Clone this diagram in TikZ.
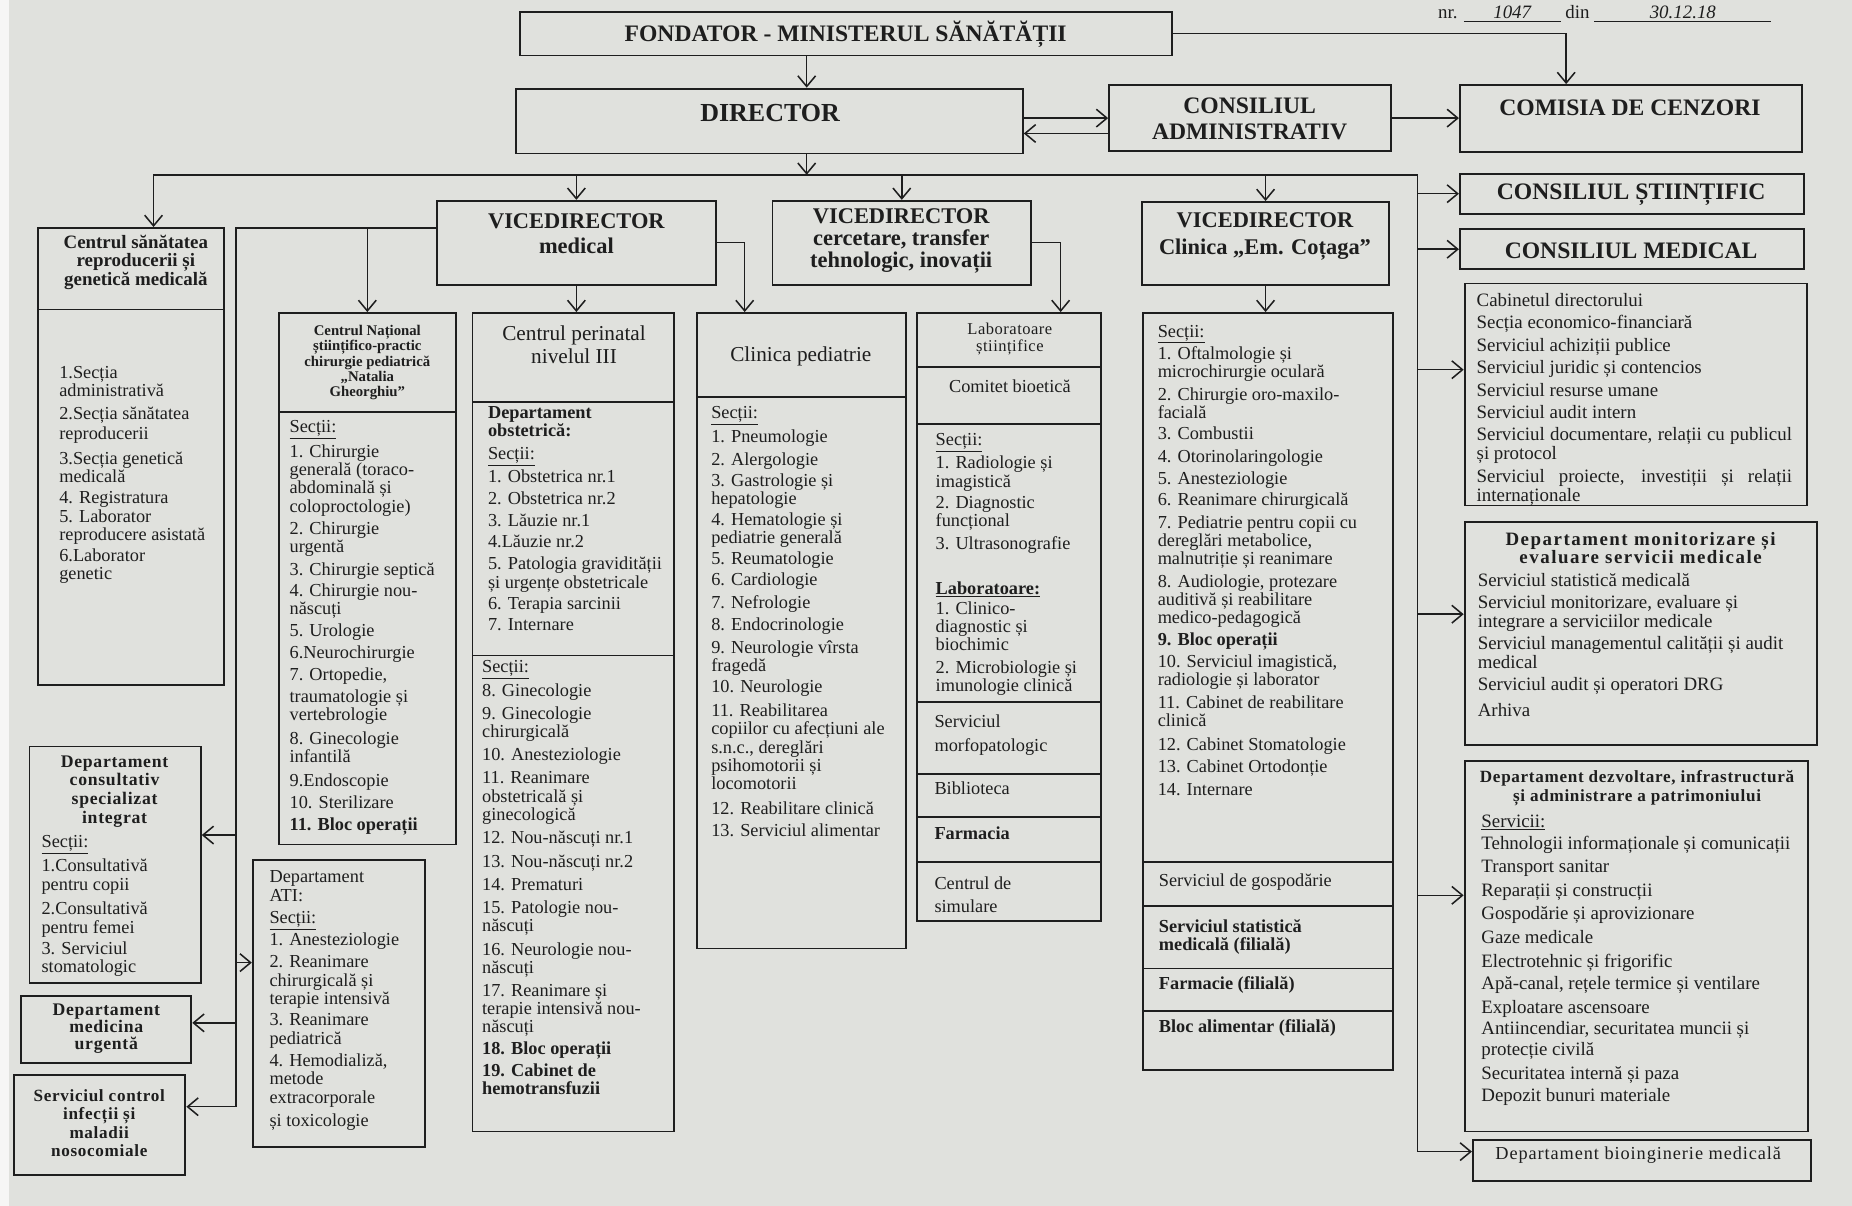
\documentclass[tikz,border=0pt]{standalone}
\usepackage{fontspec}
\setmainfont{Liberation Serif}
\usepackage{tikz}
\usetikzlibrary{arrows.meta,fit}

\definecolor{paper}{RGB}{224,225,221}
\definecolor{ink}{RGB}{30,30,30}

\begin{document}
\begin{tikzpicture}[x=1pt, y=-1pt, >={Straight Barb[length=9pt, width=15pt]},
    box/.style={draw=ink, line width=1.6pt, inner sep=0pt},
    lst/.style={anchor=north west, align=left, inner sep=0pt, text=ink, font=\fontsize{15.5}{15.5}\selectfont},
    rlst/.style={lst, font=\fontsize{16}{16}\selectfont},
    ttl/.style={align=center, inner sep=0pt, text=ink, font=\bfseries\fontsize{20}{22}\selectfont},
    sub/.style={align=center, inner sep=0pt, text=ink, font=\bfseries\fontsize{15}{15.5}\selectfont\addfontfeature{LetterSpace=3}},
    n/.style={line width=1.3pt, draw=ink}]
    \useasboundingbox (0,0) rectangle (1568,1021);
    \fill[paper] (0,0) rectangle (1568,1021);
    \fill[white!70!paper] (0,0) rectangle (8,1021);

    % boxes
    \node[box, fit={(440,10) (992,47)}] (fond) {};
    \node[box, fit={(437,75) (866,130)}] (dir) {};
    \node[box, fit={(939,72) (1178,128)}] (cadm) {};
    \node[box, fit={(1236,72) (1526,129)}] (cenz) {};
    \node[box, fit={(1236,147) (1527,181)}] (cst) {};
    \node[box, fit={(1236,194) (1527,228)}] (cmed) {};
    \node[box, fit={(1240,240) (1530,428)}] (cab) {};
    \node[box, fit={(1240,442) (1538,631)}] (mon) {};
    \node[box, fit={(1240,644) (1531,958)}] (dezv) {};
    \node[box, fit={(1247,965) (1533,1000)}] (bio) {};

    \node[box, fit={(370,170) (606,241)}] (vmed) {};
    \node[box, fit={(654,170) (873,241)}] (vcer) {};
    \node[box, fit={(967,171) (1176,241)}] (vcli) {};

    \node[box, fit={(32,193) (190,262)}] (csrh) {};
    \node[box, fit={(32,262) (190,580)}] (csrl) {};
    \node[box, fit={(25,632) (170,832)}] (cons) {};
    \node[box, fit={(18,843) (162,900)}] (urg) {};
    \node[box, fit={(12,910) (157,995)}] (ctrl) {};
    \node[box, fit={(214,728) (360,971)}] (ati) {};

    \node[box, fit={(236,265) (386,349)}] (cnsph) {};
    \node[box, fit={(236,349) (386,715)}] (cnspl) {};
    \node[box, fit={(400,265) (571,340)}] (cp3h) {};
    \node[box, fit={(400,340) (571,555)}] (cp3a) {};
    \node[box, fit={(400,555) (571,958)}] (cp3b) {};
    \node[box, fit={(590,265) (767,336)}] (clph) {};
    \node[box, fit={(590,336) (767,803)}] (clpl) {};
    \node[box, fit={(776,265) (932,311)}] (labh) {};
    \node[box, fit={(776,311) (932,359)}] (labc) {};
    \node[box, fit={(776,359) (932,594)}] (labs) {};
    \node[box, fit={(776,594) (932,655)}] (labm) {};
    \node[box, fit={(776,655) (932,692)}] (labb) {};
    \node[box, fit={(776,692) (932,730)}] (labf) {};
    \node[box, fit={(776,730) (932,780)}] (labsim) {};
    \node[box, fit={(968,265) (1179,730)}] (clis) {};
    \node[box, fit={(968,730) (1179,767)}] (clig) {};
    \node[box, fit={(968,767) (1179,820)}] (clist) {};
    \node[box, fit={(968,820) (1179,856)}] (clif) {};
    \node[box, fit={(968,856) (1179,906)}] (clib) {};

    % texts
    \node[anchor=base west, text=ink, font=\fontsize{16}{16}\selectfont] (nr) at (1214,16) {nr. \underline{\makebox[82pt]{\itshape 1047}} din \underline{\makebox[150pt]{\itshape 30.12.18}}};
    \node[ttl] (fond-t) at (716,29) {FONDATOR - MINISTERUL SĂNĂTĂȚII};
    \node[ttl, font=\bfseries\fontsize{22}{24}\selectfont] (dir-t) at (652,96) {DIRECTOR};
    \node[ttl] (cadm-t) at (1058,101) {CONSILIUL\\ADMINISTRATIV};
    \node[ttl] (cenz-t) at (1380,91) {COMISIA DE CENZORI};
    \node[ttl] (cst-t) at (1381,165) {CONSILIUL ȘTIINȚIFIC};
    \node[ttl] (cmed-t) at (1381,212) {CONSILIUL MEDICAL};
    \node[ttl, font=\bfseries\fontsize{19}{21}\selectfont] (vmed-t) at (488,198) {VICEDIRECTOR\\medical};
    \node[ttl, font=\bfseries\fontsize{19}{18.5}\selectfont] (vcer-t) at (763,204) {VICEDIRECTOR\\cercetare, transfer\\tehnologic, inovații};
    \node[ttl, font=\bfseries\fontsize{19}{23}\selectfont] (vcli-t) at (1071,200) {VICEDIRECTOR\\Clinica „Em. Coțaga”};

    \node[sub, font=\bfseries\fontsize{16}{15.5}\selectfont] (csrh-t) at (115,222) {Centrul sănătatea\\reproducerii și\\genetică medicală};
    \node[lst] (csrl-t) at (50,310) {1.Secția\\administrativă\\[3.5pt]2.Secția sănătatea\\[1.5pt]reproducerii\\[5.5pt]3.Secția genetică\\medicală\\[2.5pt]4. Registratura\\5. Laborator\\reproducere asistată\\[2.5pt]6.Laborator\\genetic};
    \node[sub, font=\bfseries\fontsize{15}{15.7}\selectfont\addfontfeature{LetterSpace=4}] (cons-t) at (97,670) {Departament\\consultativ\\specializat\\integrat};
    \node[lst] (cons-l) at (35,707) {\underline{Secții:}\\[3.5pt]1.Consultativă\\pentru copii\\[5.5pt]2.Consultativă\\pentru femei\\[2.5pt]3. Serviciul\\stomatologic};
    \node[sub, font=\bfseries\fontsize{15}{14.5}\selectfont\addfontfeature{LetterSpace=4}] (urg-t) at (90,871) {Departament\\medicina\\urgentă};
    \node[sub, font=\bfseries\fontsize{14.5}{15.7}\selectfont\addfontfeature{LetterSpace=4}] (ctrl-t) at (84,951) {Serviciul control\\infecții și\\maladii\\nosocomiale};
    \node[lst] (ati-t) at (228,737) {Departament\\ATI:\\[3.5pt]\underline{Secții:}\\[1.5pt]1. Anesteziologie\\[3.5pt]2. Reanimare\\chirurgicală și\\terapie intensivă\\[2.5pt]3. Reanimare\\pediatrică\\[3.5pt]4. Hemodializă,\\metode\\extracorporale\\[4.5pt]și toxicologie};

    \node[sub, font=\bfseries\fontsize{12.5}{13}\selectfont] (cnsph-t) at (311,307) {Centrul Național\\științifico-practic\\chirurgie pediatrică\\„Natalia\\Gheorghiu”};
    \node[lst] (cnspl-t) at (245,356) {\underline{Secții:}\\[3.5pt]1. Chirurgie\\generală (toraco-\\abdominală și\\coloproctologie)\\[3.5pt]2. Chirurgie\\urgentă\\[3.5pt]3. Chirurgie septică\\[2.5pt]4. Chirurgie nou-\\născuți\\[2.5pt]5. Urologie\\[3.5pt]6.Neurochirurgie\\[3.5pt]7. Ortopedie,\\[2.5pt]traumatologie și\\vertebrologie\\[4.5pt]8. Ginecologie\\infantilă\\[4.5pt]9.Endoscopie\\[3.5pt]10. Sterilizare\\[3.5pt]{\bfseries 11. Bloc operații}};

    \node[ttl, font=\fontsize{18}{19}\selectfont] (cp3h-t) at (486,292) {Centrul perinatal\\nivelul III};
    \node[lst] (cp3a-t) at (413,344) {{\bfseries Departament}\\{\bfseries obstetrică:}\\[3.5pt]\underline{Secții:}\\[2.5pt]1. Obstetrica nr.1\\[3.5pt]2. Obstetrica nr.2\\[2.5pt]3. Lăuzie nr.1\\[2.5pt]4.Lăuzie nr.2\\[3.5pt]5. Patologia gravidității\\și urgențe obstetricale\\[2.5pt]6. Terapia sarcinii\\[2.5pt]7. Internare};
    \node[lst] (cp3b-t) at (408,559) {\underline{Secții:}\\[3.5pt]8. Ginecologie\\[3.5pt]9. Ginecologie\\chirurgicală\\[3.5pt]10. Anesteziologie\\[4.5pt]11. Reanimare\\obstetricală și\\ginecologică\\[4.5pt]12. Nou-născuți nr.1\\[4.5pt]13. Nou-născuți nr.2\\[3.5pt]14. Prematuri\\[4.5pt]15. Patologie nou-\\născuți\\[4.5pt]16. Neurologie nou-\\născuți\\[3.5pt]17. Reanimare și\\terapie intensivă nou-\\născuți\\[2.5pt]{\bfseries 18. Bloc operații}\\[3.5pt]{\bfseries 19. Cabinet de}\\{\bfseries hemotransfuzii}};

    \node[ttl, font=\fontsize{18}{19}\selectfont] (clph-t) at (678,302) {Clinica pediatrie};
    \node[lst] (clpl-t) at (602,344) {\underline{Secții:}\\[3.5pt]1. Pneumologie\\[3.5pt]2. Alergologie\\[2.5pt]3. Gastrologie și\\hepatologie\\[1.5pt]4. Hematologie și\\pediatrie generală\\[2.5pt]5. Reumatologie\\[2.5pt]6. Cardiologie\\[3.5pt]7. Nefrologie\\[3.5pt]8. Endocrinologie\\[3.5pt]9. Neurologie vîrsta\\fragedă\\[2.5pt]10. Neurologie\\[4.5pt]11. Reabilitarea\\copiilor cu afecțiuni ale\\s.n.c., dereglări\\psihomotorii și\\locomotorii\\[5.5pt]12. Reabilitare clinică\\[3.5pt]13. Serviciul alimentar};

    \node[ttl, font=\fontsize{14}{15}\selectfont\addfontfeature{LetterSpace=3}] (labh-t) at (855,287) {Laboratoare\\științifice};
    \node[ttl, font=\fontsize{15.5}{16}\selectfont] (labc-t) at (855,327) {Comitet bioetică};
    \node[lst] (labs-t) at (792,367) {\underline{Secții:}\\[2.5pt]1. Radiologie și\\imagistică\\[2.5pt]2. Diagnostic\\funcțional\\[3.5pt]3. Ultrasonografie\\[22.5pt]{\bfseries\underline{Laboratoare:}}\\[1.5pt]1. Clinico-\\diagnostic și\\biochimic\\[3.5pt]2. Microbiologie și\\imunologie clinică};
    \node[lst] (labm-t) at (791,605) {Serviciul\\[4.5pt]morfopatologic};
    \node[lst] (labb-t) at (791,662) {Biblioteca};
    \node[lst, font=\bfseries\fontsize{15.5}{15.5}\selectfont] (labf-t) at (791,700) {Farmacia};
    \node[lst] (labsim-t) at (791,742) {Centrul de\\[4.5pt]simulare};

    \node[lst] (clis-t) at (980,275) {\underline{Secții:}\\[1.5pt]1. Oftalmologie și\\microchirurgie oculară\\[3.5pt]2. Chirurgie oro-maxilo-\\facială\\[2.5pt]3. Combustii\\[3.5pt]4. Otorinolaringologie\\[3.5pt]5. Anesteziologie\\[2.5pt]6. Reanimare chirurgicală\\[3.5pt]7. Pediatrie pentru copii cu\\dereglări metabolice,\\malnutriție și reanimare\\[3.5pt]8. Audiologie, protezare\\auditivă și reabilitare\\medico-pedagogică\\[2.5pt]{\bfseries 9. Bloc operații}\\[3.5pt]10. Serviciul imagistică,\\radiologie și laborator\\[3.5pt]11. Cabinet de reabilitare\\clinică\\[4.5pt]12. Cabinet Stomatologie\\[3.5pt]13. Cabinet Ortodonție\\[3.5pt]14. Internare};
    \node[lst] (clig-t) at (981,740) {Serviciul de gospodărie};
    \node[lst, font=\bfseries\fontsize{15.5}{15.5}\selectfont] (clist-t) at (981,778) {Serviciul statistică\\medicală (filială)};
    \node[lst, font=\bfseries\fontsize{15.5}{15.5}\selectfont] (clif-t) at (981,827) {Farmacie (filială)};
    \node[lst, font=\bfseries\fontsize{15.5}{15.5}\selectfont] (clib-t) at (981,863) {Bloc alimentar (filială)};

    \node[rlst] (cab-t) at (1250,248) {Cabinetul directorului\\[3pt]Secția economico-financiară\\[3pt]Serviciul achiziții publice\\[3pt]Serviciul juridic și contencios\\[3pt]Serviciul resurse umane\\[3pt]Serviciul audit intern\\[3pt]\makebox[267pt][s]{Serviciul documentare, relații cu publicul}\\și protocol\\[3pt]\makebox[267pt][s]{Serviciul proiecte, investiții și relații}\\internaționale};
    \node[ttl, font=\bfseries\fontsize{16}{16}\selectfont\addfontfeature{LetterSpace=8}] (mon-t) at (1389,464) {Departament monitorizare și\\evaluare servicii medicale};
    \node[rlst] (mon-l) at (1251,485) {Serviciul statistică medicală\\[3pt]Serviciul monitorizare, evaluare și\\integrare a serviciilor medicale\\[3pt]Serviciul managementul calității și audit\\medical\\[2pt]Serviciul audit și operatori DRG\\[6pt]Arhiva};
    \node[ttl, font=\bfseries\fontsize{14.5}{16}\selectfont\addfontfeature{LetterSpace=4}] (dezv-t) at (1386,667) {Departament dezvoltare, infrastructură\\și administrare a patrimoniului};
    \node[rlst] (dezv-l) at (1254,690) {\underline{Servicii:}\\[2pt]Tehnologii informaționale și comunicații\\[4pt]Transport sanitar\\[4pt]Reparații și construcții\\[4pt]Gospodărie și aprovizionare\\[4pt]Gaze medicale\\[4pt]Electrotehnic și frigorific\\[3pt]Apă-canal, rețele termice și ventilare\\[4pt]Exploatare ascensoare\\[2pt]Antiincendiar, securitatea muncii și\\[2pt]protecție civilă\\[4pt]Securitatea internă și paza\\[3pt]Depozit bunuri materiale};
    \node[ttl, font=\fontsize{15.5}{16}\selectfont\addfontfeature{LetterSpace=5}] (bio-t) at (1387,978) {Departament bioinginerie medicală};

    % edges
    \coordinate (bc) at (683,148);
    \coordinate (bl) at (130,148);
    \coordinate (br) at (1200,148);
    \coordinate (rb) at (1200,975);
    \coordinate (st) at (200,193);
    \coordinate (sb) at (200,937);

    \draw [->, n] (fond.south -| bc) -- (dir.north -| bc);
    \draw [->, n] (dir.south -| bc) -- (bc);
    \draw [->, n] (fond.east) -| ([xshift=-55pt]cenz.north);
    \draw [->, n] (dir.east |- cadm.west) -- (cadm.west);
    \draw [->, n] ([yshift=-13pt]cadm.west) -- ([yshift=-13pt]cadm.west -| dir.east);
    \draw [->, n] (cadm.east) -- (cadm.east -| cenz.west);

    \draw [->, n] (rb) -- (br) -- (bl) -- (bl |- csrh.north);
    \draw [->, n] (rb) -- (rb -| bio.west);
    \draw [->, n] (vmed.north |- bc) -- (vmed.north);
    \draw [->, n] (vcer.north |- bc) -- (vcer.north);
    \draw [->, n] (vcli.north |- bc) -- (vcli.north);
    \draw [->, n] (br |- cst.west) -- (cst.west);
    \draw [->, n] (br |- cmed.west) -- (cmed.west);
    \draw [->, n] ([yshift=21pt]cab.west -| br) -- ([yshift=21pt]cab.west);
    \draw [->, n] ([yshift=16.5pt]mon.west -| br) -- ([yshift=16.5pt]mon.west);
    \draw [->, n] ([yshift=43pt]dezv.west -| br) -- ([yshift=43pt]dezv.west);

    \draw [->, n] (vmed.west |- st) -- (st) -- (sb) -- (sb -| ctrl.east);
    \draw [->, n] (cnsph.north |- st) -- (cnsph.north);
    \draw [->, n] ([yshift=25pt]cons.east -| st) -- ([yshift=25pt]cons.east);
    \draw [->, n] ([yshift=34.5pt]ati.west -| st) -- ([yshift=34.5pt]ati.west);
    \draw [->, n] ([yshift=5.5pt]urg.east -| st) -- ([yshift=5.5pt]urg.east);
    \draw [->, n] (vmed.south) -- (vmed.south |- cp3h.north);
    \draw [->, n] (vmed.east) -| ([xshift=-48pt]clph.north);
    \draw [->, n] (vcer.east) -| ([xshift=44pt]labh.north);
    \draw [->, n] (vcli.south) -- (vcli.south |- clis.north);
\end{tikzpicture}
\end{document}
